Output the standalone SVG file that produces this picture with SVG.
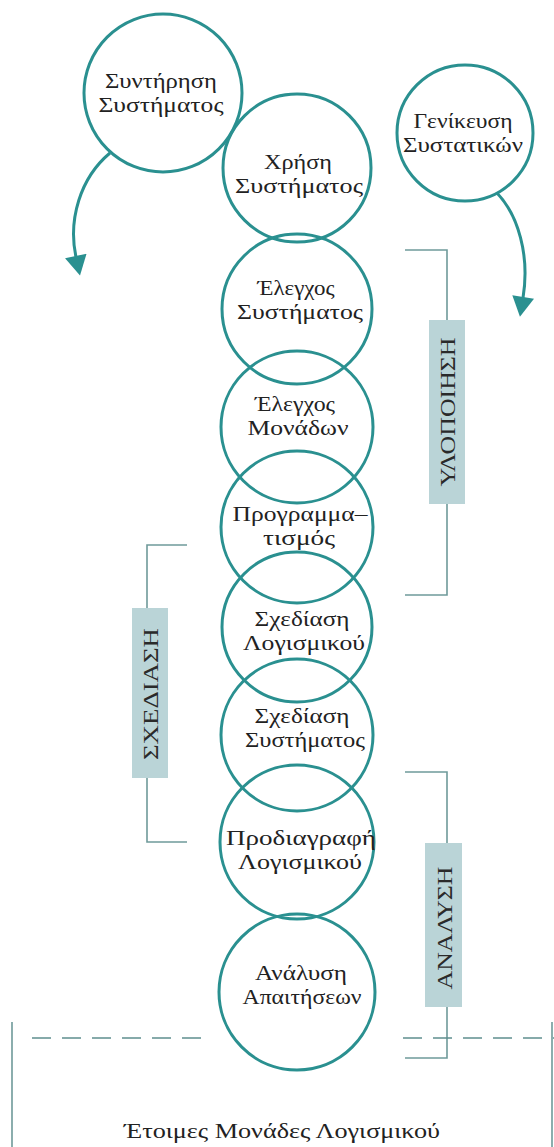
<svg xmlns="http://www.w3.org/2000/svg" width="554" height="1147" viewBox="0 0 554 1147">
<style>
.c{fill:none;stroke:#2a9090;stroke-width:3}
.t{font-family:"Liberation Serif","DejaVu Serif",serif;font-size:21px;fill:#222;text-anchor:middle}
.br{fill:none;stroke:#6f9a9a;stroke-width:1.6}
.lb{fill:#bad4d7}
.lt{font-family:"Liberation Serif","DejaVu Serif",serif;font-size:21px;fill:#2a2a2a;text-anchor:middle}
.ar{fill:none;stroke:#2a9090;stroke-width:3}
.dash{fill:none;stroke:#5f8e8e;stroke-width:1.6;stroke-dasharray:19 11}
</style>
<defs>
<marker id="ah" markerUnits="userSpaceOnUse" markerWidth="22" markerHeight="22" viewBox="0 0 20 22" refX="1" refY="11" orient="auto">
<path d="M0,0 L20,11 L0,22 Z" fill="#2a9090"/>
</marker>
</defs>
<g id="connectors">
<path class="ar" d="M110,153 C80,178 68,220 76,257" marker-end="url(#ah)"/>
<path class="ar" d="M497,193 C518,215 530,255 523,298" marker-end="url(#ah)"/>
</g>
<g id="n-syntirisi"><circle class="c" cx="163" cy="93" r="79"/><text class="t" x="161" y="88" textLength="112" lengthAdjust="spacingAndGlyphs">Συντήρηση</text><text class="t" x="161" y="112" textLength="125" lengthAdjust="spacingAndGlyphs">Συστήματος</text></g>
<g id="n-genikefsi"><circle class="c" cx="465" cy="133" r="68"/><text class="t" x="463" y="128" textLength="99" lengthAdjust="spacingAndGlyphs">Γενίκευση</text><text class="t" x="463" y="152" textLength="120" lengthAdjust="spacingAndGlyphs">Συστατικών</text></g>
<g id="n-xrisi"><circle class="c" cx="297" cy="168" r="74"/><text class="t" x="298" y="169" textLength="68" lengthAdjust="spacingAndGlyphs">Χρήση</text><text class="t" x="299" y="193" textLength="128" lengthAdjust="spacingAndGlyphs">Συστήματος</text></g>
<g id="n-elegxos-sys"><circle class="c" cx="297" cy="309" r="75"/><text class="t" x="296" y="295" textLength="77" lengthAdjust="spacingAndGlyphs">Έλεγχος</text><text class="t" x="300" y="319" textLength="126" lengthAdjust="spacingAndGlyphs">Συστήματος</text></g>
<g id="n-elegxos-mon"><circle class="c" cx="297" cy="427" r="76"/><text class="t" x="295" y="411" textLength="80" lengthAdjust="spacingAndGlyphs">Έλεγχος</text><text class="t" x="298" y="435" textLength="101" lengthAdjust="spacingAndGlyphs">Μονάδων</text></g>
<g id="n-programmatismos"><circle class="c" cx="297" cy="527" r="76"/><text class="t" x="300" y="521" textLength="135" lengthAdjust="spacingAndGlyphs">Προγραμμα–</text><text class="t" x="299" y="545" textLength="72" lengthAdjust="spacingAndGlyphs">τισμός</text></g>
<g id="n-sxediasi-log"><circle class="c" cx="297" cy="627" r="75"/><text class="t" x="302" y="626" textLength="95" lengthAdjust="spacingAndGlyphs">Σχεδίαση</text><text class="t" x="304" y="650" textLength="122" lengthAdjust="spacingAndGlyphs">Λογισμικού</text></g>
<g id="n-sxediasi-sys"><circle class="c" cx="297" cy="735" r="76"/><text class="t" x="302" y="723" textLength="95" lengthAdjust="spacingAndGlyphs">Σχεδίαση</text><text class="t" x="305" y="747" textLength="120" lengthAdjust="spacingAndGlyphs">Συστήματος</text></g>
<g id="n-prodiagrafi"><circle class="c" cx="297" cy="842" r="77"/><text class="t" x="301" y="845" textLength="150" lengthAdjust="spacingAndGlyphs">Προδιαγραφή</text><text class="t" x="300" y="869" textLength="124" lengthAdjust="spacingAndGlyphs">Λογισμικού</text></g>
<g id="n-analysi"><circle class="c" cx="297" cy="992" r="78"/><text class="t" x="301" y="980" textLength="92" lengthAdjust="spacingAndGlyphs">Ανάλυση</text><text class="t" x="302" y="1004" textLength="119" lengthAdjust="spacingAndGlyphs">Απαιτήσεων</text></g>
<g id="phase-ylopoiisi">
<path class="br" d="M405,250 H447 V595 H405"/>
<rect class="lb" x="429" y="320" width="36" height="184"/>
<text class="lt" transform="translate(455,412) rotate(-90)" textLength="149" lengthAdjust="spacingAndGlyphs">ΥΛΟΠΟΙΗΣΗ</text>
</g>
<g id="phase-sxediasi">
<path class="br" d="M187,545 H147 V842 H187"/>
<rect class="lb" x="132" y="608" width="36" height="170"/>
<text class="lt" transform="translate(158,694) rotate(-90)" textLength="132" lengthAdjust="spacingAndGlyphs">ΣΧΕΔΙΑΣΗ</text>
</g>
<g id="phase-analysi">
<path class="br" d="M405,772 H447 V1058 H405"/>
<rect class="lb" x="425" y="843" width="37" height="164"/>
<text class="lt" transform="translate(452,928) rotate(-90)" textLength="123" lengthAdjust="spacingAndGlyphs">ΑΝΑΛΥΣΗ</text>
</g>
<g id="ready-units">
<path class="dash" d="M32,1038 H208"/>
<path class="dash" d="M403,1038 H554"/>
<path class="br" d="M12,1022 V1147 M552,1022 V1147"/>
<text class="t" x="282" y="1138" textLength="316" lengthAdjust="spacingAndGlyphs">Έτοιμες Μονάδες Λογισμικού</text>
</g>
</svg>
